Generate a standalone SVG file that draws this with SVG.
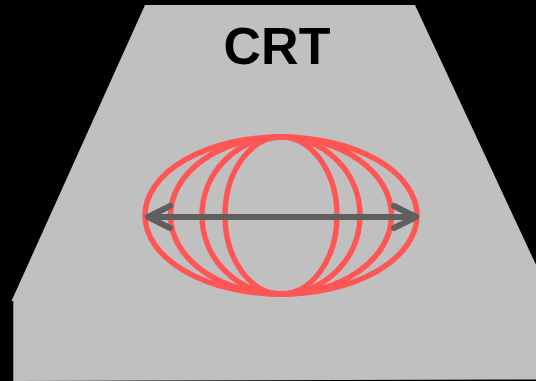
<svg xmlns="http://www.w3.org/2000/svg" width="536" height="381" viewBox="0 0 536 381">
<style>
.e{fill:none;stroke:#FF5555;stroke-width:5.5}
.a{fill:none;stroke:#5F5F5F;stroke-width:6;stroke-linecap:round;stroke-linejoin:round}
.t{font-family:"Liberation Sans",Arial,sans-serif;font-weight:bold;font-size:52px;fill:#000}
</style>
<rect width="536" height="381" fill="#000"/>
<g id="crt">
<polygon points="145,5 415,5 537,267 537,379.5 13.3,381 13.3,301 11.5,301" fill="#C0C0C0"/>
<text class="t" x="277" y="64" text-anchor="middle">CRT</text>
</g>
<g id="beam">
<ellipse class="e" cx="281" cy="215.5" rx="136" ry="78.5"/>
<ellipse class="e" cx="281" cy="215.5" rx="110.5" ry="78.5"/>
<ellipse class="e" cx="281" cy="215.5" rx="79" ry="78.5"/>
<ellipse class="e" cx="281" cy="215.5" rx="56" ry="78.5"/>
</g>
<g id="connectors">
<line class="a" x1="150" y1="217" x2="414" y2="217"/>
<polyline class="a" points="170,206 148,217 170,228"/>
<polyline class="a" points="394,206 416,217 394,228"/>
</g>
</svg>
